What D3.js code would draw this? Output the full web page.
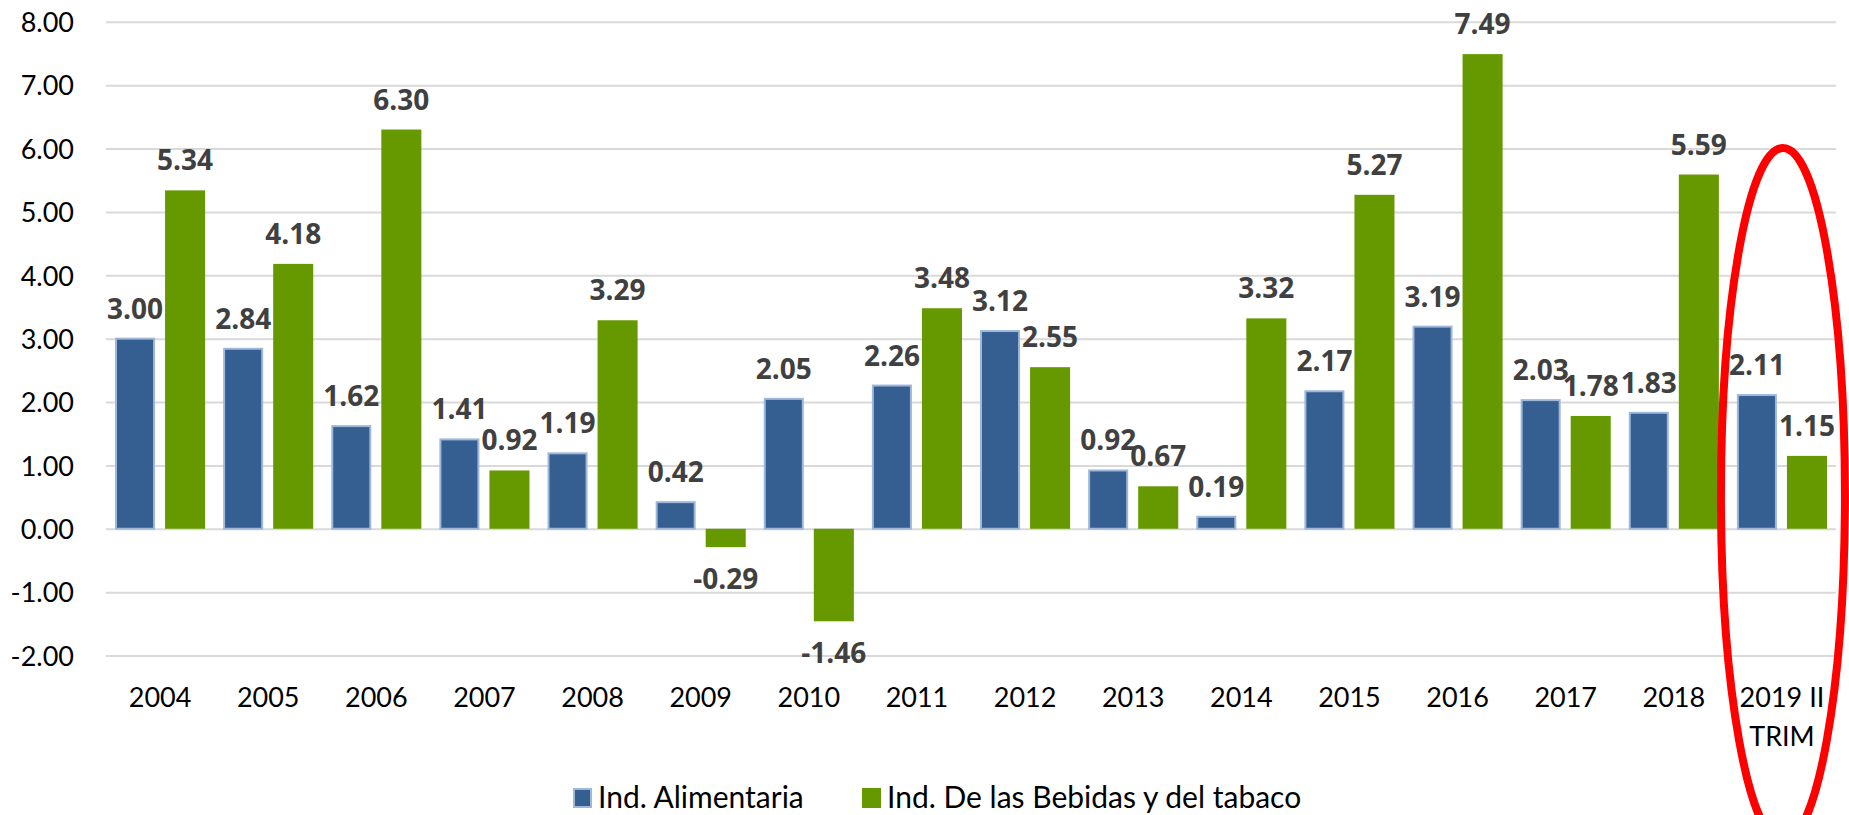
<!DOCTYPE html>
<html>
<head>
<meta charset="utf-8">
<script src="https://cdn.jsdelivr.net/npm/d3@7"></script>
<style>
  html, body { margin: 0; padding: 0; background: #ffffff; }
  svg { display: block; }
</style>
</head>
<body>
<script>
// Annual variation by industry, 2004 – 2019 (II quarter)
const categories = ["2004", "2005", "2006", "2007", "2008", "2009", "2010", "2011",
  "2012", "2013", "2014", "2015", "2016", "2017", "2018", "2019 II TRIM"];
const seriesNames = ["Ind. Alimentaria", "Ind. De las Bebidas y del tabaco"];
const alimentaria = [3.00, 2.84, 1.62, 1.41, 1.19, 0.42, 2.05, 2.26, 3.12, 0.92, 0.19, 2.17, 3.19, 2.03, 1.83, 2.11];
const bebidas = [5.34, 4.18, 6.30, 0.92, 3.29, -0.29, -1.46, 3.48, 2.55, 0.67, 3.32, 5.27, 7.49, 1.78, 5.59, 1.15];
const yTicks = [-2, -1, 0, 1, 2, 3, 4, 5, 6, 7, 8];
const highlighted = "2019 II TRIM";

const W = 1849, H = 815;
const plot = { left: 106, right: 1836, top: 21.8, bottom: 655.5 };
const colors = { fill: ["#365f91", "#669900"], stroke: ["#9fb8da", "#669900"] };

// plain hyphen for negative numbers
const fmt = d3.formatLocale({ decimal: ".", thousands: ",", grouping: [3], currency: ["", ""], minus: "-" }).format(".2f");

const svg = d3.select("body").append("svg")
  .attr("width", W).attr("height", H)
  .style("background", "#ffffff");

const y = d3.scaleLinear().domain([-2, 8]).range([plot.bottom, plot.top]);
const x0 = d3.scaleBand().domain(categories).range([plot.left, plot.right]).padding(0);
const x1 = d3.scaleBand().domain(seriesNames).range([0, x0.bandwidth()])
  .paddingInner(0.2).paddingOuter(0.18);

// value axis with horizontal gridlines
const yAxis = svg.append("g")
  .attr("transform", `translate(${plot.left},0)`)
  .call(d3.axisLeft(y).tickValues(yTicks).tickFormat(fmt)
    .tickSizeInner(-(plot.right - plot.left)).tickSizeOuter(0).tickPadding(32));
yAxis.select(".domain").remove();
yAxis.selectAll(".tick line").attr("stroke", "#d9d9d9").attr("stroke-width", 2);
yAxis.selectAll(".tick text")
  .attr("fill", "#000000")
  .attr("dy", "0.36em")
  .style("font-family", "Lato, sans-serif")
  .style("font-size", "27px");

// category axis
const xAxis = svg.append("g")
  .attr("transform", `translate(0,${plot.bottom})`)
  .call(d3.axisBottom(x0).tickSize(0).tickPadding(32));
xAxis.select(".domain").remove();
xAxis.selectAll(".tick text")
  .attr("fill", "#000000")
  .style("font-family", "Lato, sans-serif")
  .style("font-size", "27px")
  .each(function (d) {
    if (d === highlighted) {
      const t = d3.select(this).text(null);
      t.append("tspan").attr("x", 0).attr("dy", "0.71em").text("2019 II");
      t.append("tspan").attr("x", 0).attr("dy", "1.45em").text("TRIM");
      t.attr("dy", null);
    }
  });

// bars
const rows = categories.map((c, i) => ({ cat: c, values: [alimentaria[i], bebidas[i]] }));
const groups = svg.append("g").selectAll("g")
  .data(rows).join("g")
  .attr("transform", d => `translate(${x0(d.cat)},0)`);

groups.selectAll("rect")
  .data(d => d.values.map((v, k) => ({ key: seriesNames[k], k, v })))
  .join("rect")
  .attr("x", d => x1(d.key) + (d.k === 0 ? 1 : 0))
  .attr("width", d => x1.bandwidth() - (d.k === 0 ? 2 : 0))
  .attr("y", d => Math.min(y(d.v), y(0)))
  .attr("height", d => Math.abs(y(d.v) - y(0)))
  .attr("fill", d => colors.fill[d.k])
  .attr("stroke", d => d.k === 0 ? colors.stroke[0] : "none")
  .attr("stroke-width", 2);

// value labels
groups.selectAll("text.val")
  .data(d => d.values.map((v, k) => ({ key: seriesNames[k], k, v })))
  .join("text")
  .attr("class", "val")
  .attr("x", d => x1(d.key) + x1.bandwidth() / 2)
  .attr("y", d => d.v >= 0 ? y(d.v) - 20 : y(d.v) + 42)
  .attr("text-anchor", "middle")
  .attr("fill", "#404040")
  .style("font-family", "'Open Sans', sans-serif")
  .style("font-weight", "700")
  .style("font-size", "28px")
  .text(d => fmt(d.v));

// legend
const legendItems = [
  { name: seriesNames[0], k: 0, x: 573 },
  { name: seriesNames[1], k: 1, x: 862 }
];
const legend = svg.append("g").selectAll("g").data(legendItems).join("g")
  .attr("transform", d => `translate(${d.x},788)`);
legend.append("rect")
  .attr("x", d => d.k === 0 ? 1 : 0).attr("y", d => d.k === 0 ? 1 : 0)
  .attr("width", d => d.k === 0 ? 17 : 19).attr("height", d => d.k === 0 ? 18 : 20)
  .attr("fill", d => colors.fill[d.k])
  .attr("stroke", d => d.k === 0 ? colors.stroke[0] : "none")
  .attr("stroke-width", 2);
legend.append("text")
  .attr("x", 25).attr("y", 20)
  .attr("fill", "#000000")
  .style("font-family", "Lato, sans-serif")
  .style("font-size", "30px")
  .text(d => d.name);

// highlight around the latest period
const hx = x0(highlighted) + x0.bandwidth() / 2;
svg.append("ellipse")
  .attr("cx", hx + 1).attr("cy", 495)
  .attr("rx", 62).attr("ry", 347)
  .attr("fill", "none")
  .attr("stroke", "#ff0000")
  .attr("stroke-width", 8);
</script>
</body>
</html>
